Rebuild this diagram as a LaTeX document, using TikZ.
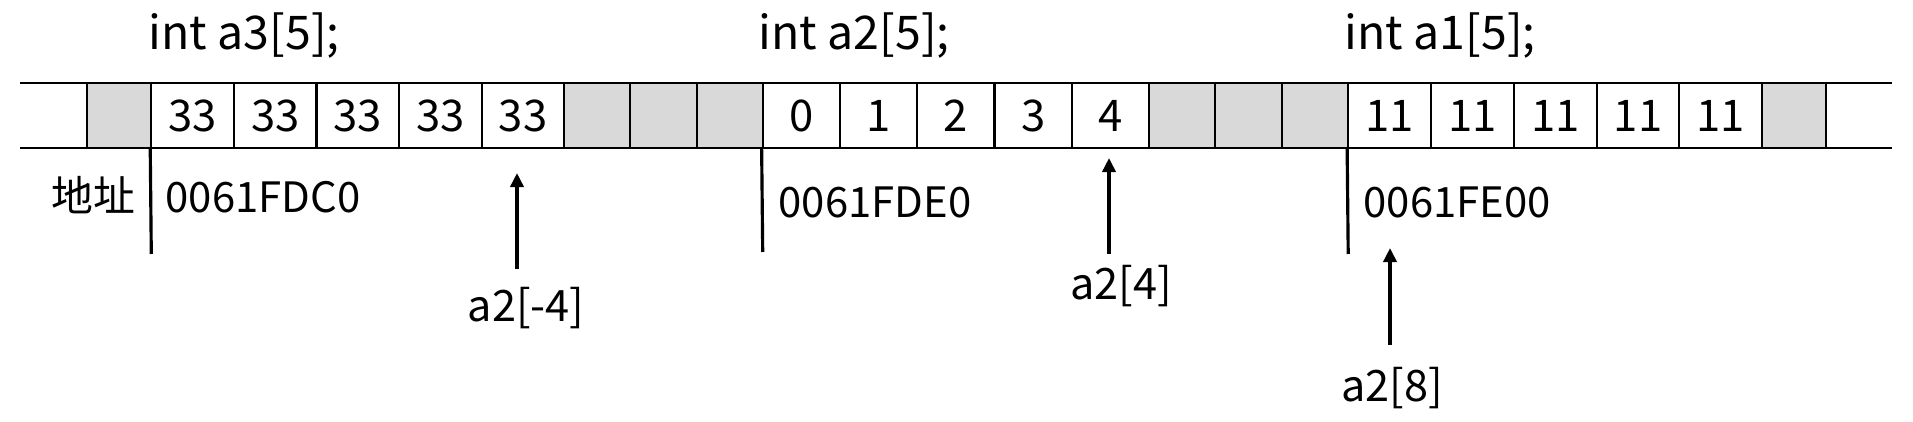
\documentclass[tikz,border=0pt]{standalone}
\usepackage{fontspec}
\setmainfont{Noto Sans CJK SC}
\usetikzlibrary{arrows.meta}
\definecolor{padgray}{RGB}{217,217,217}
\tikzset{
  cellbox/.style={draw=black, line width=0.6pt, inner sep=0pt, minimum height=0.65cm,
    font=\fontsize{12.4}{14}\selectfont},
  padbox/.style={cellbox, fill=padgray},
  title/.style={anchor=base west, inner sep=0pt, font=\fontsize{13.2}{15}\selectfont},
  addr/.style={anchor=base west, inner sep=0pt, font=\fontsize{11.9}{14}\selectfont},
  lab/.style={anchor=base, inner sep=0pt, font=\fontsize{12.3}{14}\selectfont},
  rail/.style={line width=0.7pt},
  lead/.style={line width=0.9pt},
  ptr/.style={line width=1pt, -{Triangle[length=0.14cm,width=0.13cm]}},
}
\newcommand\mcell[5]{\node[#5, minimum width={(#2-#1)*0.01cm}] (#3) at ({(#1+#2)/2},115.5) {#4};}
\begin{document}
\begin{tikzpicture}[x=0.01cm,y=-0.01cm]
\path[use as bounding box] (0,0) rectangle (1913,422);
% padding cells
\mcell{86.6}{151.3}{g1}{}{padbox}
\mcell{564.3}{630.4}{g2}{}{padbox}
\mcell{630.4}{696.6}{g3}{}{padbox}
\mcell{696.6}{762.7}{g4}{}{padbox}
\mcell{1149}{1215.4}{g5}{}{padbox}
\mcell{1215.4}{1281.8}{g6}{}{padbox}
\mcell{1281.8}{1348.2}{g7}{}{padbox}
\mcell{1762.2}{1826}{g8}{}{padbox}
% array cells
\foreach \i in {1,...,5}{
  \pgfmathsetmacro\xa{151.3+(\i-1)*82.6}\pgfmathsetmacro\xb{\xa+82.6}
  \mcell{\xa}{\xb}{a3c\i}{33}{cellbox}
  \pgfmathsetmacro\xa{762.7+(\i-1)*77.26}\pgfmathsetmacro\xb{\xa+77.26}
  \pgfmathtruncatemacro\v{\i-1}
  \mcell{\xa}{\xb}{a2c\i}{\v}{cellbox}
  \pgfmathsetmacro\xa{1348.2+(\i-1)*82.8}\pgfmathsetmacro\xb{\xa+82.8}
  \mcell{\xa}{\xb}{a1c\i}{11}{cellbox}
}
% rails
\coordinate (railTL) at (20,83);
\coordinate (railTR) at (1892,83);
\coordinate (railBL) at (20,148);
\coordinate (railBR) at (1892,148);
\draw[rail] (railTL) -- (railTR);
\draw[rail] (railBL) -- (railBR);
% titles
\node[title] (t3) at (148,50) {int a3[5];};
\node[title] (t2) at (758,50) {int a2[5];};
\node[title] (t1) at (1344,50) {int a1[5];};
% address leads
\coordinate (lead3) at (151.3,254);
\coordinate (lead2) at (762.7,252);
\coordinate (lead1) at (1348.2,254);
\draw[lead] (a3c1.south west) -- (lead3);
\draw[lead] (a2c1.south west) -- (lead2);
\draw[lead] (a1c1.south west) -- (lead1);
\node[addr] (addrlbl) at (51,212) {地址};
\node[addr] (ad3) at (165,213) {0061FDC0};
\node[addr] (ad2) at (778,218) {0061FDE0};
\node[addr] (ad1) at (1363,218) {0061FE00};
% pointers
\coordinate (tipm4) at (517,173);
\coordinate (tailm4) at (517,269);
\coordinate (tip4) at (1109,158);
\coordinate (tail4) at (1109,254);
\coordinate (tip8) at (1390,248);
\coordinate (tail8) at (1390,345);
\draw[ptr] (tailm4) -- (tipm4);
\draw[ptr] (tail4) -- (tip4);
\draw[ptr] (tail8) -- (tip8);
\node[lab] (lm4) at (526,322) {a2[-4]};
\node[lab] (l4) at (1121,300) {a2[4]};
\node[lab] (l8) at (1392,402) {a2[8]};
\end{tikzpicture}
\end{document}
